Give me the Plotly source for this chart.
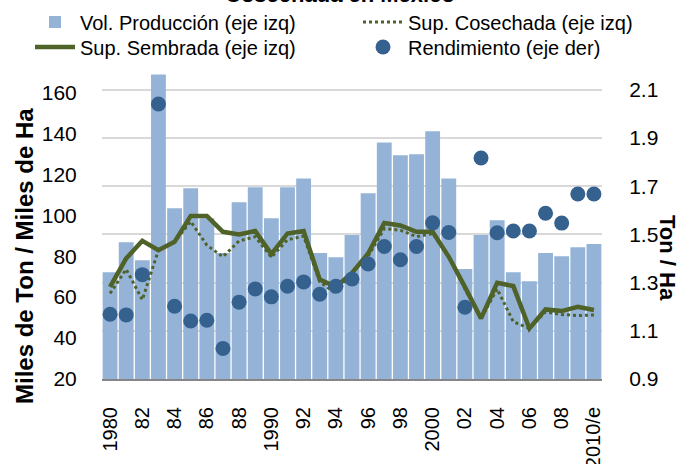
"""Producción, superficie y rendimiento en México, 1980-2010/e."""

import plotly.graph_objects as go

# Colores
BAR_BLUE = '#95B3D7'
OLIVE = '#4F6228'
DOT_BLUE = '#35618F'
GRID = '#D9D9D9'
FONT = 'Liberation Sans, Arial, sans-serif'

years = list(range(1980, 2011))

# Vol. Producción (miles de ton, eje izq)
vol_produccion = [72.2, 86.8, 78.0, 168.8, 103.4, 113.2, 98.5, 81.6, 106.3, 113.7,
                  98.5, 113.7, 118.0, 81.6, 79.5, 90.4, 110.7, 135.6, 129.3, 129.8,
                  141.0, 118.0, 73.7, 90.4, 97.6, 72.2, 67.8, 81.6, 80.0, 84.4, 85.9]

# Sup. Sembrada (miles de ha, eje izq)
sup_sembrada = [65.0, 78.9, 87.5, 82.9, 87.0, 99.7, 99.7, 91.9, 90.6, 92.3,
                81.0, 91.1, 92.3, 68.6, 65.0, 71.8, 81.3, 96.2, 95.0, 91.9,
                91.9, 79.7, 65.0, 49.6, 67.0, 65.4, 44.7, 54.0, 53.2, 55.3, 53.7]

# Sup. Cosechada (miles de ha, eje izq)
sup_cosechada = [61.8, 73.6, 58.7, 83.0, 87.0, 97.0, 85.4, 79.7, 87.5, 89.5,
                 79.5, 88.0, 89.8, 67.5, 61.8, 72.0, 80.0, 93.5, 92.7, 89.6,
                 91.0, 80.0, 64.0, 49.6, 64.0, 48.0, 44.7, 52.8, 51.5, 51.0, 51.3]

# Rendimiento (ton/ha, eje der)
rendimiento = [1.169, 1.166, 1.333, 2.041, 1.202, 1.141, 1.144, 1.027, 1.219, 1.274,
               1.241, 1.285, 1.303, 1.252, 1.285, 1.315, 1.377, 1.450, 1.395, 1.450,
               1.548, 1.508, 1.198, 1.817, 1.507, 1.514, 1.514, 1.588, 1.547, 1.668, 1.668]

x_tickvals = list(range(1980, 2011, 2))
x_ticktext = ['1980', '82', '84', '86', '88', '1990', '92', '94', '96', '98',
              '2000', '02', '04', '06', '08', '2010/e']
left_ticks = [20, 40, 60, 80, 100, 120, 140, 160]
right_ticks = [0.9, 1.1, 1.3, 1.5, 1.7, 1.9, 2.1]

fig = go.Figure()

fig.add_trace(go.Bar(
    name='Vol. Producción (eje izq)',
    x=years, y=vol_produccion,
    marker=dict(color=BAR_BLUE, line=dict(width=0)),
    legend='legend',
))

fig.add_trace(go.Scatter(
    name='Sup. Cosechada (eje izq)',
    x=years, y=sup_cosechada,
    mode='lines',
    line=dict(color=OLIVE, width=3, dash='dot'),
    legend='legend2',
))

fig.add_trace(go.Scatter(
    name='Sup. Sembrada (eje izq)',
    x=years, y=sup_sembrada,
    mode='lines',
    line=dict(color=OLIVE, width=4.5),
    legend='legend3',
))

fig.add_trace(go.Scatter(
    name='Rendimiento (eje der)',
    x=years, y=rendimiento,
    mode='markers',
    marker=dict(color=DOT_BLUE, size=15),
    yaxis='y2',
    legend='legend4',
))


def legend_box(x_px, y_px):
    # one legend entry, placed by pixel position in the page
    return dict(
        orientation='h',
        xref='container', yref='container',
        x=x_px / 682, y=1 - y_px / 464,
        xanchor='left', yanchor='middle',
        font=dict(family=FONT, size=20, color='black'),
        bgcolor='rgba(0,0,0,0)',
        itemwidth=40,
    )


fig.update_layout(
    width=682, height=464,
    showlegend=True,
    paper_bgcolor='white', plot_bgcolor='white',
    margin=dict(l=102, r=80, t=72, b=85, autoexpand=False),
    font=dict(family=FONT, size=20, color='black'),
    bargap=0.08,
    legend=legend_box(30, 22),
    legend2=legend_box(358, 22),
    legend3=legend_box(30, 47),
    legend4=legend_box(358, 47),
    xaxis=dict(
        range=[1979.5, 2010.5],
        tickvals=x_tickvals, ticktext=x_ticktext,
        tickangle=-90,
        ticks='outside', ticklen=18, tickcolor='rgba(0,0,0,0)',
        tickfont=dict(size=20),
        showgrid=False, zeroline=False,
        showline=True, linecolor='#868686', linewidth=2,
    ),
    yaxis=dict(
        range=[20, 170],
        tickvals=left_ticks,
        ticks='outside', ticklen=20, tickcolor='rgba(0,0,0,0)',
        tickfont=dict(size=21),
        showgrid=False, zeroline=False, showline=False,
    ),
    yaxis2=dict(
        overlaying='y', side='right',
        range=[0.9, 2.174],
        tickvals=right_ticks,
        ticktext=[f'{v:.1f}' for v in right_ticks],
        ticks='outside', ticklen=22, tickcolor='rgba(0,0,0,0)',
        tickfont=dict(size=21),
        showgrid=True, gridcolor=GRID, gridwidth=1.5,
        zeroline=False, showline=False,
    ),
    annotations=[
        dict(text='<b>Miles de Ton / Miles de Ha</b>', textangle=-90,
             xref='paper', yref='paper', x=(24 - 102) / 500, y=(379 - 256) / 307,
             xanchor='center', yanchor='middle', showarrow=False,
             font=dict(size=24, family=FONT)),
        dict(text='<b>Ton / Ha</b>', textangle=90,
             xref='paper', yref='paper', x=(668 - 102) / 500, y=(379 - 258) / 307,
             xanchor='center', yanchor='middle', showarrow=False,
             font=dict(size=22, family=FONT)),
        dict(text='<b>Cosechada en México</b>',
             xref='paper', yref='paper', x=(340 - 102) / 500, y=(379 + 6) / 307,
             xanchor='center', yanchor='middle', showarrow=False,
             font=dict(size=22, family=FONT)),
    ],
)

# page margin off so the figure sits at the window's corner
fig.write_html("out.html", config={'displayModeBar': False},
               post_script="document.body.style.margin='0';")
